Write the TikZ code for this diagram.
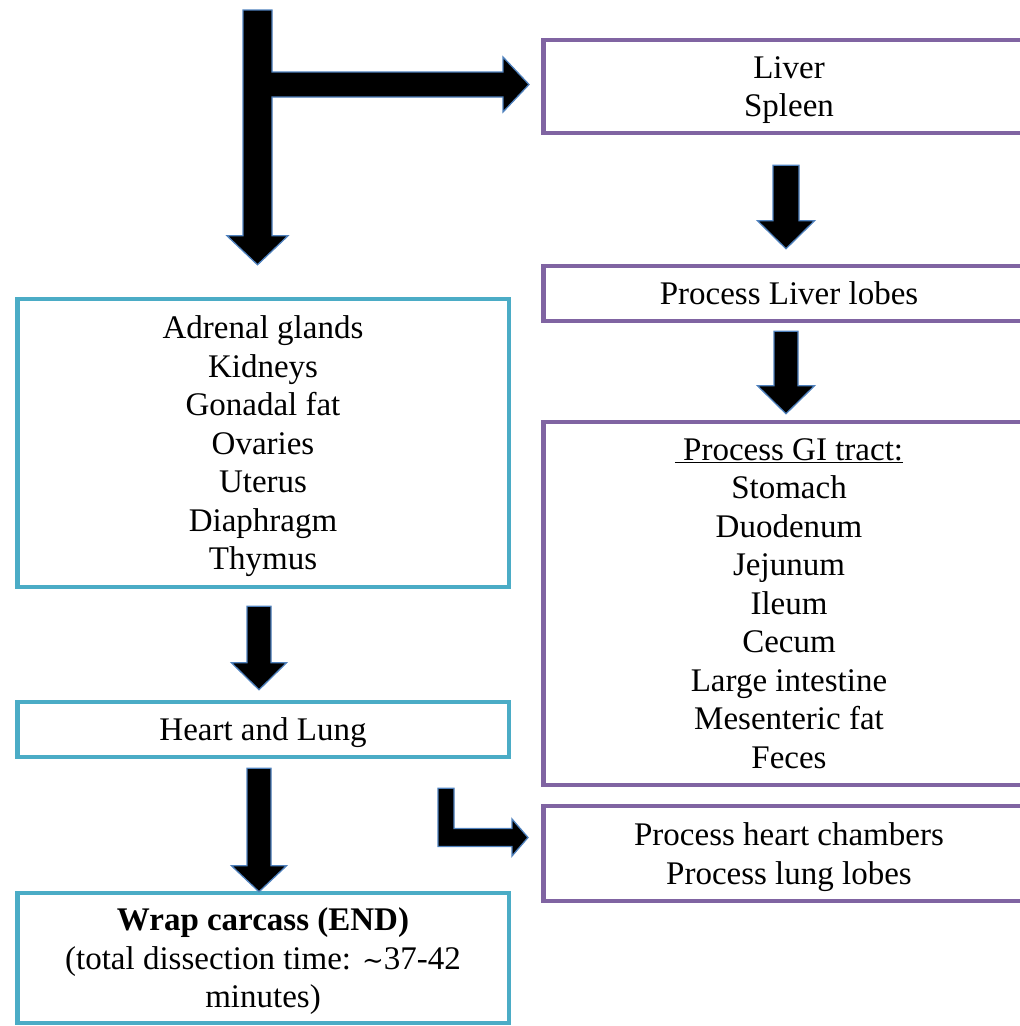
\documentclass[tikz,border=0pt]{standalone}
\usepackage{fontspec}
\setmainfont{Liberation Serif}
\newfontfamily\tildefont{DejaVu Serif}
\usetikzlibrary{calc,positioning}

\definecolor{boxcyan}{HTML}{4BACC6}
\definecolor{boxpurple}{HTML}{8064A2}
\definecolor{arrowblue}{HTML}{4F81BD}

\tikzset{
  cyanbox/.style={draw=boxcyan, line width=4.5pt, minimum width=491.5pt, align=center, inner sep=0pt, text depth=0pt},
  purplebox/.style={draw=boxpurple, line width=4.5pt, minimum width=491.5pt, align=center, inner sep=0pt, text depth=0pt},
  blockarrow/.style={fill=black, draw=arrowblue, line width=1.3pt, line join=miter}
}

% block arrow pointing down: start, tip, shaft half width, head half width, head length
\newcommand{\blockdown}[5]{%
  \draw[blockarrow] let \p1=(#1), \p2=(#2) in
    (\x1-#3,\y1) -- (\x1+#3,\y1) -- (\x1+#3,\y2+#5) -- (\x1+#4,\y2+#5)
    -- (\x1,\y2) -- (\x1-#4,\y2+#5) -- (\x1-#3,\y2+#5) -- cycle;}

\begin{document}
\begin{tikzpicture}[x=1pt,y=-1pt,font=\fontsize{33}{38.5}\selectfont]
\path[use as bounding box,clip] (0,0) rectangle (1020,1026);

% Left column
\node[cyanbox, minimum height=288pt] (organs) at (263,443)
  {Adrenal glands\\Kidneys\\Gonadal fat\\Ovaries\\Uterus\\Diaphragm\\Thymus};
\node[cyanbox, minimum height=55pt] (heart) at (263,729.5) {Heart and Lung};
\node[cyanbox, minimum height=130pt] (wrap) at (263,958)
  {\textbf{Wrap carcass (END)}\\(total dissection time: {\tildefont\fontsize{26}{38.5}\selectfont ∼}37-42\\minutes)};

% Right column
\node[purplebox, minimum height=93pt] (liver) at (789,86.5) {Liver\\Spleen};
\node[purplebox, minimum height=55pt] (lobes) at (789,293.5) {Process Liver lobes};
\node[purplebox, minimum height=363pt] (gitract) at (789,603.5)
  {\underline{~Process GI tract:}\\Stomach\\Duodenum\\Jejunum\\Ileum\\Cecum\\Large intestine\\Mesenteric fat\\Feces};
\node[purplebox, minimum height=95pt] (chambers) at (789,853.5)
  {Process heart chambers\\Process lung lobes};

% Arrows
\coordinate (start) at (257.5,10);
\coordinate (downtip) at ($(organs.north)+(-5.5,-32)$);
\coordinate (righttip) at ($(liver.west)+(-12,-2)$);
\draw[blockarrow] let \p1=(start), \p2=(downtip), \p3=(righttip) in
  (\x1-14.5pt,\y1) -- (\x1+14.5pt,\y1) -- (\x1+14.5pt,\y3+12.5pt)
  -- (\x3-26pt,\y3+12.5pt) -- (\x3-26pt,\y3+27.5pt) -- (\x3,\y3)
  -- (\x3-26pt,\y3-27.5pt) -- (\x3-26pt,\y3-12.5pt) -- (\x1+14.5pt,\y3-12.5pt)
  -- (\x1+14.5pt,\y2+29pt) -- (\x1+30.5pt,\y2+29pt) -- (\x1,\y2)
  -- (\x1-30.5pt,\y2+29pt) -- (\x1-14.5pt,\y2+29pt) -- cycle;

\blockdown{$(liver.south)+(-3,30)$}{$(lobes.north)+(-3,-15)$}{13pt}{28.5pt}{28pt}
\blockdown{$(lobes.south)+(-3,8)$}{$(gitract.north)+(-3,-6)$}{12pt}{28.5pt}{28pt}
\blockdown{$(organs.south)+(-4,17)$}{$(heart.north)+(-4,-10)$}{12pt}{27.5pt}{27pt}
\blockdown{$(heart.south)+(-4,9)$}{$(wrap.north)+(-4,1)$}{12pt}{27.5pt}{26pt}

% bent arrow to heart chambers
\coordinate (bendtop) at ($(heart.south east)+(-65,29)$);
\coordinate (bendtip) at ($(chambers.west)+(-13,-16)$);
\draw[blockarrow] let \p1=(bendtop), \p2=(bendtip) in
  (\x1-8pt,\y1) -- (\x1+8pt,\y1) -- (\x1+8pt,\y2+9pt) -- (\x2-16pt,\y2+9pt)
  -- (\x2-16pt,\y2+18.5pt) -- (\x2,\y2) -- (\x2-16pt,\y2-18.5pt)
  -- (\x2-16pt,\y2-9pt) -- (\x1-8pt,\y2-9pt) -- cycle;
\end{tikzpicture}
\end{document}
